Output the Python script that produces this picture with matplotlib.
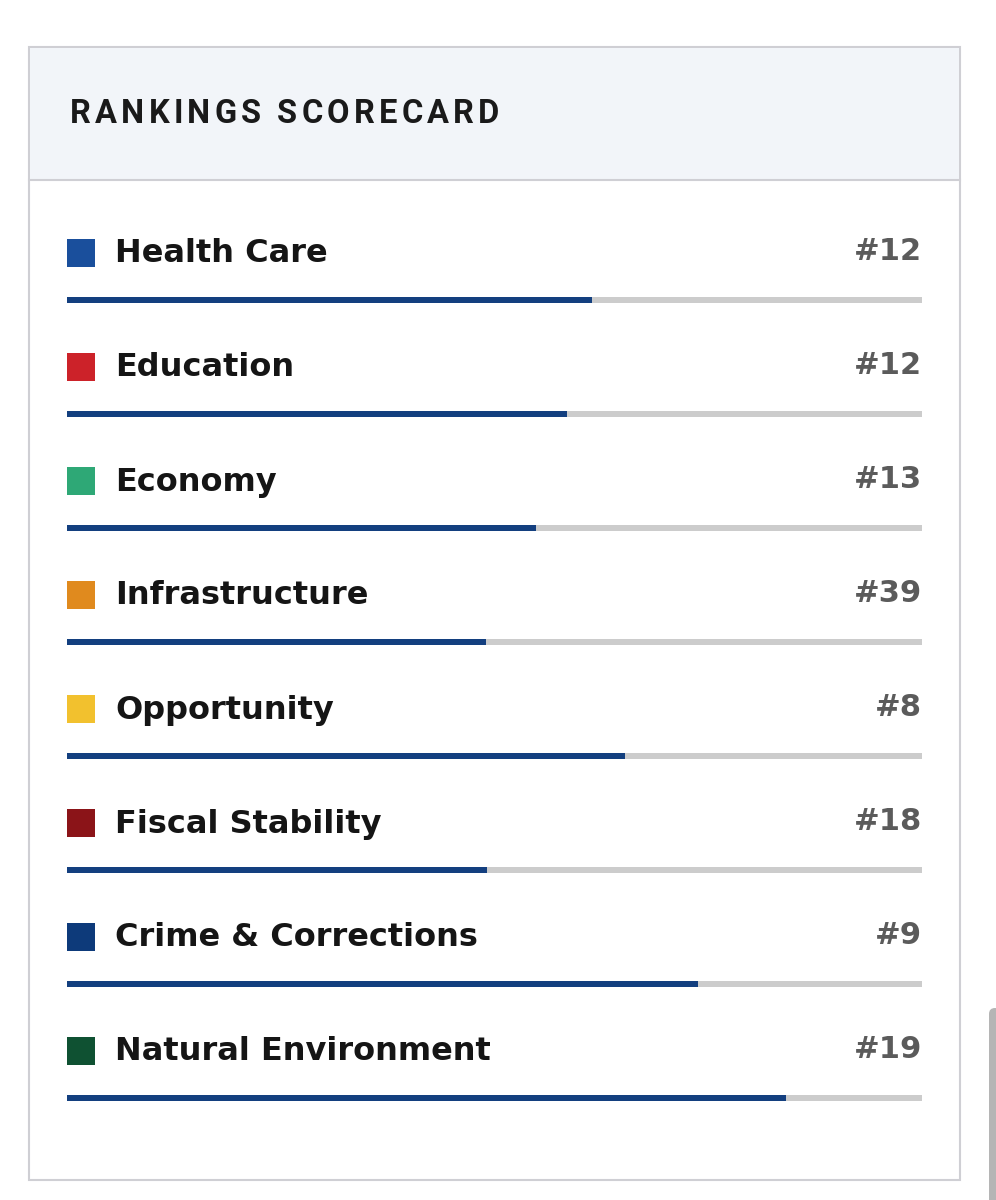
import matplotlib.pyplot as plt
from matplotlib.patches import Rectangle, FancyBboxPatch

categories = ['Health Care', 'Education', 'Economy', 'Infrastructure',
              'Opportunity', 'Fiscal Stability', 'Crime & Corrections',
              'Natural Environment']
ranks = ['#12', '#12', '#13', '#39', '#8', '#18', '#9', '#19']
# share of the track that is filled
scores = [0.614, 0.585, 0.549, 0.490, 0.653, 0.491, 0.738, 0.841]
swatch_colors = ['#1a4f9c', '#cc2229', '#2ea876', '#e08a1e',
                 '#f2c12e', '#8b1418', '#0d3a7a', '#0f5132']

W, H = 996, 1200
fig = plt.figure(figsize=(W / 100, H / 100), dpi=100)
ax = fig.add_axes([0, 0, 1, 1])
ax.set_xlim(0, W)
ax.set_ylim(H, 0)
ax.axis('off')

# card + header
ax.add_patch(Rectangle((29, 47), 931, 1133, facecolor='white', edgecolor='#cfcfd4', lw=1.5))
ax.add_patch(Rectangle((29.8, 47.8), 929.4, 131.5, facecolor='#f2f5f9', edgecolor='none'))
ax.plot([29, 960], [179.5, 179.5], color='#cfcfd4', lw=1.5)

# scrollbar piece at the right edge
ax.add_patch(FancyBboxPatch((989, 1008), 12, 200, boxstyle='round,pad=0,rounding_size=6',
                            facecolor='#b5b5b5', edgecolor='none'))

# title with letter spacing
title = 'RANKINGS SCORECARD'
fig.canvas.draw()
r = fig.canvas.get_renderer()
x = 70
for ch in title:
    t = ax.text(x, 114, ch, fontsize=23.5, fontweight='bold', family='Roboto',
                color='#1a1a1a', va='center', ha='left')
    bb = t.get_window_extent(renderer=r)
    x += bb.width + 4.2

x0, x1 = 67, 922
for i, name in enumerate(categories):
    y = 253 + 114 * i
    ax.add_patch(Rectangle((67, y - 14), 28, 28, facecolor=swatch_colors[i], edgecolor='none'))
    ax.text(115, y + 1, name, fontsize=23, fontweight='bold', family='DejaVu Sans',
            color='#151515', va='center', ha='left')
    ax.text(922, y - 2, ranks[i], fontsize=22, fontweight='bold', family='DejaVu Sans',
            color='#5b5b5b', va='center', ha='right')
    by = y + 47
    ax.add_patch(Rectangle((x0, by - 3), x1 - x0, 6, facecolor='#cccccc', edgecolor='none'))
    ax.add_patch(Rectangle((x0, by - 3), (x1 - x0) * scores[i], 6, facecolor='#133f7f', edgecolor='none'))

fig.savefig('out.png', dpi=100)
